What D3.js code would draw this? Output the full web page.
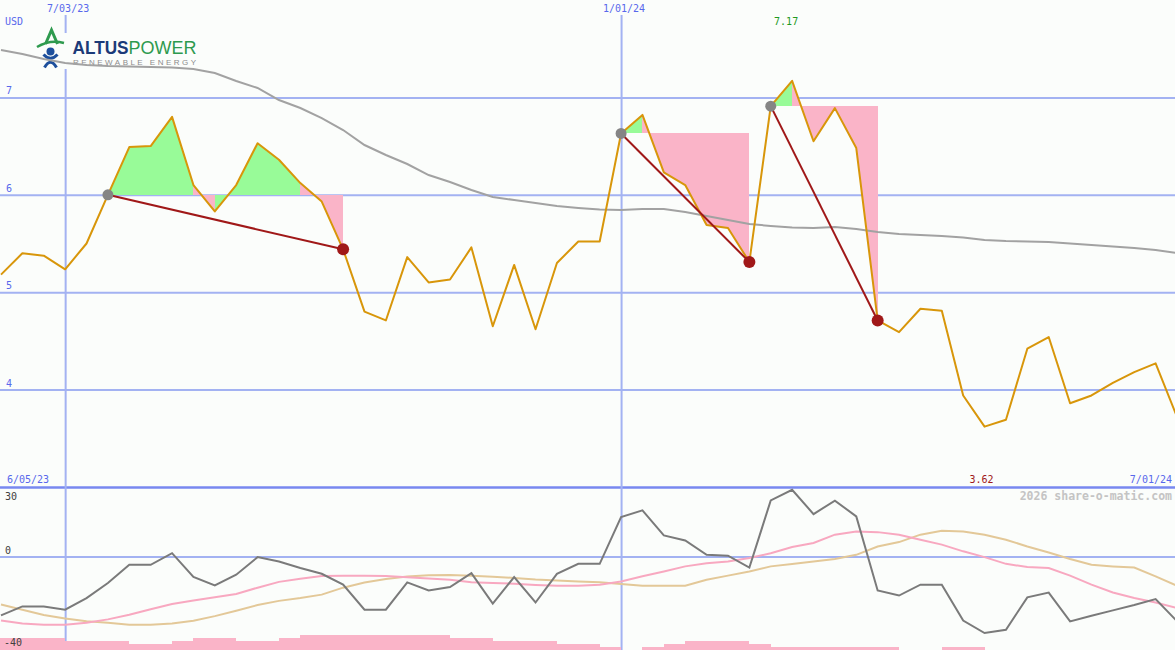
<!DOCTYPE html>
<html><head><meta charset="utf-8">
<script src="https://cdn.jsdelivr.net/npm/d3@7"></script>
<style>
html,body{margin:0;padding:0;background:#fbfdfb;}
svg{display:block;}
text{font-family:"DejaVu Sans Mono","Liberation Mono",monospace;}
</style></head><body>
<svg id="chart" width="1175" height="650"></svg>
<script>
// ---- data ----
const dates = ["2023-06-12","2023-06-19","2023-06-26","2023-07-03","2023-07-10","2023-07-17","2023-07-24","2023-07-31",
"2023-08-07","2023-08-14","2023-08-21","2023-08-28","2023-09-04","2023-09-11","2023-09-18","2023-09-25",
"2023-10-02","2023-10-09","2023-10-16","2023-10-23","2023-10-30","2023-11-06","2023-11-13","2023-11-20",
"2023-11-27","2023-12-04","2023-12-11","2023-12-18","2023-12-25","2024-01-01","2024-01-08","2024-01-15",
"2024-01-22","2024-01-29","2024-02-05","2024-02-12","2024-02-19","2024-02-26","2024-03-04","2024-03-11",
"2024-03-18","2024-03-25","2024-04-01","2024-04-08","2024-04-15","2024-04-22","2024-04-29","2024-05-06",
"2024-05-13","2024-05-20","2024-05-27","2024-06-03","2024-06-10","2024-06-17","2024-06-24","2024-07-01"];
const price = [5.18,5.40,5.375,5.235,5.50,6.00,6.49,6.50,6.80,6.10,5.83,6.10,6.53,6.36,6.12,5.93,
5.44,4.80,4.71,5.36,5.10,5.13,5.46,4.65,5.28,4.62,5.30,5.52,5.52,6.63,6.82,6.23,
6.10,5.69,5.66,5.31,6.91,7.17,6.55,6.89,6.48,4.71,4.59,4.83,4.81,3.94,3.62,3.69,
4.42,4.54,3.86,3.94,4.07,4.18,4.27,3.72];
const movingAvg = [7.487,7.446,7.394,7.353,7.333,7.322,7.317,7.312,7.307,7.292,7.25,7.168,7.097,6.973,6.891,6.788,
6.665,6.511,6.409,6.316,6.203,6.131,6.049,5.977,5.947,5.916,5.885,5.865,5.849,5.844,5.854,5.854,
5.823,5.782,5.741,5.700,5.680,5.664,5.659,5.669,5.649,5.618,5.598,5.587,5.577,5.562,5.536,5.526,
5.521,5.515,5.500,5.485,5.469,5.454,5.433,5.402];
const oscillator = [-25.5,-21.6,-21.6,-23.0,-18.0,-11.5,-3.6,-3.6,1.4,-8.9,-12.5,-7.9,-0.3,-2.2,-5.0,-7.5,
-12.2,-23.0,-23.0,-11.2,-14.7,-13.2,-7.2,-20.4,-8.9,-19.9,-7.5,-3.2,-3.2,17.0,19.9,9.1,
6.9,0.7,0.3,-4.8,24.2,28.8,18.3,24.1,17.3,-14.7,-16.9,-12.2,-12.2,-27.7,-33.1,-31.7,
-17.7,-15.6,-28.1,-25.6,-23.3,-21.0,-18.4,-28.0];
const oscPink = [-27.7,-29.0,-29.5,-29.5,-28.7,-27.2,-25.2,-22.8,-20.6,-19.0,-17.6,-16.2,-13.5,-11.0,-9.6,-8.5,
-8.3,-8.3,-8.5,-9.0,-9.5,-10.1,-11.2,-11.5,-11.8,-12.3,-12.7,-12.7,-12.2,-10.8,-8.6,-6.5,
-4.3,-2.9,-2.2,-0.7,1.4,4.1,5.8,9.4,10.8,10.5,9.4,7.2,5.1,2.2,-0.3,-3.2,
-4.6,-5.0,-8.3,-12.2,-15.6,-18.0,-19.9,-22.3];
const oscTan = [-20.8,-23.0,-25.3,-26.8,-28.0,-28.7,-29.5,-29.5,-29.0,-27.8,-25.8,-23.5,-21.0,-19.2,-18.0,-16.5,
-13.5,-11.3,-9.8,-8.7,-8.1,-8.0,-8.3,-8.8,-9.3,-10.0,-10.4,-10.8,-11.2,-11.9,-12.7,-12.7,
-12.7,-10.1,-8.3,-6.5,-4.3,-3.3,-2.2,-1.1,0.7,4.3,6.2,9.4,11.1,10.8,9.4,7.2,
4.3,1.7,-1.1,-3.6,-4.3,-4.8,-8.6,-12.7];
const volumeLevel = [4,4,4,4,3,3,3,2,2,3,4,4,3,3,4,5,
5,5,5,5,5,5,4,4,3,3,3,2,2,1,0,1,
2,3,3,3,2,1,1,1,1,1,1,0,0,1,1,0,
0,0,0,0,0,0,0,0];
const tradeEntries = ["2023-07-17","2024-01-01","2024-02-19"];
const tradeExits   = ["2023-10-02","2024-02-12","2024-03-25"];
const priceTicks = [4,5,6,7];
const oscTicks = [30,0,-40];
const oscGridTicks = [30,0];
const dateTicks = ["2023-07-03","2024-01-01"];
const dateTickLabels = ["7/03/23","1/01/24"];
const rangeLabels = ["6/05/23","7/01/24"];
const unitLabel = "USD";
const watermark = "2026 share-o-matic.com";

// ---- setup ----
const W = 1175, H = 650;
const parse = d3.utcParse("%Y-%m-%d");
const D = dates.map(parse);
const svg = d3.select("#chart");
const bg = "#fbfdfb", grid = "#a3b2f2", blue = "#5868ec";
const sans = "'Liberation Sans',Arial,sans-serif";
svg.append("rect").attr("width", W).attr("height", H).attr("fill", bg);

const x = d3.scaleUtc().domain([D[0], D[D.length-1]]).range([1, 1177]);
const y = d3.scaleLinear().domain([3, 8]).range([487, 0]);
const yo = d3.scaleLinear().domain([-40, 30]).range([649, 487]);
const yv = d3.scaleLinear().domain([0, 5]).range([650, 635]);

// ---- gridlines ----
const gy = svg.append("g").call(d3.axisLeft(y).tickValues(priceTicks).tickSize(-W).tickFormat(""));
gy.select(".domain").remove();
gy.selectAll("line").attr("stroke", grid).attr("stroke-width", 2);

const go = svg.append("g").call(d3.axisLeft(yo).tickValues(oscGridTicks).tickSize(-W).tickFormat(""));
go.select(".domain").remove();
go.selectAll("line").attr("stroke", d => d === 30 ? "#7888f0" : grid).attr("stroke-width", d => d === 30 ? 2.5 : 2);

const gx = svg.append("g").attr("transform", "translate(0,15)")
  .call(d3.axisTop(x).tickValues(dateTicks.map(parse)).tickSize(-(H - 15)).tickFormat(""));
gx.select(".domain").remove();
gx.selectAll("line").attr("stroke", grid).attr("stroke-width", 2);

// ---- logo ----
const logo = svg.append("g");
logo.append("rect").attr("x", 32).attr("y", 33).attr("width", 168).attr("height", 36).attr("fill", bg);
logo.append("path").attr("d", "M45.5,44 L51.5,30 L57.5,44").attr("fill", "none").attr("stroke", "#2e9a4e").attr("stroke-width", 3);
logo.append("path").attr("d", "M37,47 Q50,39 64,43").attr("fill", "none").attr("stroke", "#2e9a4e").attr("stroke-width", 2.5);
logo.append("circle").attr("cx", 50.5).attr("cy", 51.5).attr("r", 4).attr("fill", "#1d4f9c");
logo.append("path").attr("d", "M43.5,54.5 Q50.5,62 57.5,54.5").attr("fill", "none").attr("stroke", "#1d4f9c").attr("stroke-width", 3);
logo.append("path").attr("d", "M44.5,67.5 Q50.5,57 56.5,67.5").attr("fill", "none").attr("stroke", "#1d4f9c").attr("stroke-width", 3);
logo.append("text").attr("x", 72.5).attr("y", 53.5).text("ALTUS")
  .style("font-family", sans).attr("font-weight", "bold").attr("font-size", 17.5)
  .attr("fill", "#1b3a78").attr("textLength", 56).attr("lengthAdjust", "spacingAndGlyphs");
logo.append("text").attr("x", 128.5).attr("y", 53.5).text("POWER")
  .style("font-family", sans).attr("font-size", 17.5)
  .attr("fill", "#2e9a4e").attr("textLength", 68).attr("lengthAdjust", "spacingAndGlyphs");
logo.append("text").attr("x", 73).attr("y", 64.5).text("RENEWABLE ENERGY")
  .style("font-family", sans).attr("font-size", 8)
  .attr("fill", "#8c8c8c").attr("textLength", 123).attr("lengthAdjust", "spacing");

// ---- trade fills ----
const idx = s => dates.indexOf(s);
const fillG = svg.append("g").attr("shape-rendering", "crispEdges");
tradeEntries.forEach((e, k) => {
  const a = idx(e), b = idx(tradeExits[k]);
  const base = price[a];
  for (let j = a; j < b; j++) {
    const pts = [[x(D[j]), y(price[j])], [x(D[j+1]), y(price[j+1])], [x(D[j+1]), y(base)], [x(D[j]), y(base)]];
    fillG.append("path").attr("d", "M" + pts.join("L") + "Z")
      .attr("fill", price[j+1] >= base ? "#98fb98" : "#fab4c8");
  }
});

// ---- main lines ----
const line = d3.line().x((d, i) => x(D[i])).y(d => y(d));
svg.append("path").datum(movingAvg).attr("d", line).attr("fill", "none").attr("stroke", "#a2a2a2").attr("stroke-width", 2);
svg.append("path").datum(price).attr("d", line).attr("fill", "none").attr("stroke", "#d8960a").attr("stroke-width", 2).attr("stroke-linejoin", "round");

// ---- trade markers ----
tradeEntries.forEach((e, k) => {
  const a = idx(e), b = idx(tradeExits[k]);
  svg.append("line").attr("x1", x(D[a])).attr("y1", y(price[a])).attr("x2", x(D[b])).attr("y2", y(price[b]))
    .attr("stroke", "#a01818").attr("stroke-width", 2);
  svg.append("circle").attr("cx", x(D[a])).attr("cy", y(price[a])).attr("r", 5.5).attr("fill", "#858585");
  svg.append("circle").attr("cx", x(D[b])).attr("cy", y(price[b])).attr("r", 6).attr("fill", "#a01818");
});

// ---- oscillator panel ----
svg.append("g").attr("shape-rendering", "crispEdges").selectAll("rect").data(volumeLevel).join("rect")
  .attr("x", (d, i) => i === 0 ? 0 : x(D[i-1]))
  .attr("width", (d, i) => i === 0 ? x(D[0]) : x(D[i]) - x(D[i-1]))
  .attr("y", d => yv(d)).attr("height", d => yv(0) - yv(d))
  .attr("fill", "#fab4c8");
const oline = d3.line().x((d, i) => x(D[i])).y(d => yo(d));
svg.append("path").datum(oscTan).attr("d", oline).attr("fill", "none").attr("stroke", "#e3c898").attr("stroke-width", 2);
svg.append("path").datum(oscPink).attr("d", oline).attr("fill", "none").attr("stroke", "#f8a8c0").attr("stroke-width", 2);
svg.append("path").datum(oscillator).attr("d", oline).attr("fill", "none").attr("stroke", "#7a7a7a").attr("stroke-width", 2);

// ---- labels ----
const T = (tx, ty, s, opts = {}) => svg.append("text").attr("x", tx).attr("y", ty).text(s)
  .attr("font-size", opts.size || 10).attr("fill", opts.fill || blue)
  .attr("text-anchor", opts.anchor || "start").attr("font-weight", opts.weight || "normal");
T(5, 25, unitLabel);
priceTicks.forEach(v => T(6, y(v) - 3, String(v)));
dateTicks.forEach((d, i) => T(x(parse(d)) + 3, 12, dateTickLabels[i], {anchor: "middle"}));
T(7, 483, rangeLabels[0]);
T(1172, 483, rangeLabels[1], {anchor: "end"});
const hiI = d3.maxIndex(price), loI = d3.minIndex(price);
T(x(D[hiI]) - 6, 25, price[hiI].toFixed(2), {anchor: "middle", fill: "#1f9a1f"});
T(x(D[loI]) - 3, 483, price[loI].toFixed(2), {anchor: "middle", fill: "#a01818"});
const oscLabelY = {"30": 500, "0": 554, "-40": 646};
oscTicks.forEach(v => T(v < 0 ? 4 : 5, oscLabelY[String(v)], String(v), {fill: "#404040"}));
T(1172, 500, watermark, {anchor: "end", size: 11.5, fill: "#c4c4c4", weight: "bold"});
</script>
</body></html>
